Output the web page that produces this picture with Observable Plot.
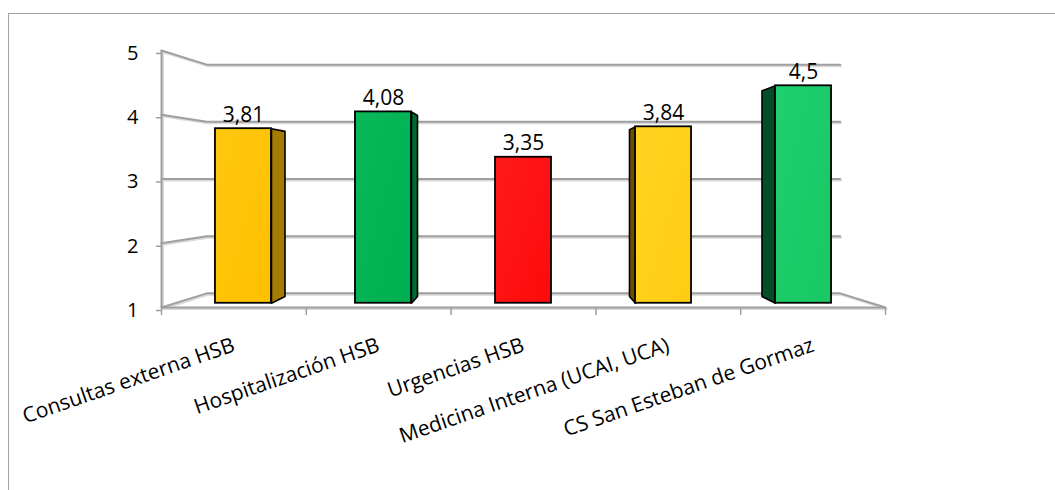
<!DOCTYPE html>
<html>
<head>
<meta charset="utf-8">
<script src="https://cdn.jsdelivr.net/npm/d3@7"></script>
<script src="https://cdn.jsdelivr.net/npm/@observablehq/plot@0.6"></script>
<style>
  html, body { margin: 0; padding: 0; background: #fff; }
  #wrap { position: relative; width: 1055px; height: 490px; overflow: hidden; }
  #border { position: absolute; left: 8px; top: 13px; width: 1100px; height: 600px;
            border-left: 1.5px solid #a4a4a4; border-top: 1.5px solid #a4a4a4; }
  #chart { position: absolute; left: 0; top: 0; }
</style>
</head>
<body>
<div id="wrap"><div id="border"></div><div id="chart"></div></div>
<script>
// ---- data ----
const categories = ["Consultas externa HSB", "Hospitalización HSB", "Urgencias HSB", "Medicina Interna (UCAI, UCA)", "CS San Esteban de Gormaz"];
const values = [3.81, 4.08, 3.35, 3.84, 4.5];
const valueLabels = ["3,81", "4,08", "3,35", "3,84", "4,5"];
const frontColors = ["#FFC000", "#00B050", "#FF0A0A", "#FFCC12", "#17C864"];
const frontLight = ["#FFC70F", "#08B859", "#FF1A1A", "#FFD420", "#20CF6E"];
const sideColors = ["#A67C00", "#006B30", "#8B0000", "#6E5000", "#044D26"];
const yTicks = [1, 2, 3, 4, 5];
const xBounds = [0, 1, 2, 3, 4, 5];

// ---- pseudo-3D projection factors (style) ----
const sFront = 0.967, sBack = 0.915, wallX = 0.875, wallY = 0.89, half = 0.2;
const cU = 2.5, cV = 3;
const px = (u, s) => cU + (u - cU) * s;
const py = (v, s) => cV + (v - cV) * s;
const gray = "#9f9f9f";
const shade = "#d9d9d9";

// gridlines (side wall + back wall + floor)
const grid = [];
yTicks.forEach(t => {
  grid.push({g: t, x: 0, y: t});
  grid.push({g: t, x: px(0, wallX), y: py(t, wallY)});
  grid.push({g: t, x: px(5, wallX), y: py(t, wallY)});
  if (t === 1) grid.push({g: t, x: 5, y: 1});
});

// bars
const bars = values.map((v, i) => ({i, v, c: i + 0.5, label: valueLabels[i]}));
const sides = [];
bars.forEach(b => {
  const L = b.c - half, R = b.c + half;
  let e = null;
  if (R < cU) e = R; else if (L > cU) e = L;
  if (e === null) return;
  const pts = [
    [px(e, sFront), py(1, sFront)],
    [px(e, sFront), py(b.v, sFront)],
    [px(e, sBack), py(b.v, sBack)],
    [px(e, sBack), py(1, sBack)],
    [px(e, sFront), py(1, sFront)]
  ];
  pts.forEach(p => sides.push({id: b.i, x: p[0], y: p[1], fill: sideColors[b.i]}));
});

const chart = Plot.plot({
  width: 1055, height: 490,
  marginLeft: 161, marginRight: 170, marginTop: 50, marginBottom: 183,
  x: {domain: [0, 5], axis: null},
  y: {domain: [1, 5], axis: null},
  color: {type: "identity"},
  style: {fontFamily: "'Open Sans', sans-serif", background: "transparent", overflow: "visible", color: "#000"},
  marks: [
    // soft shadow of the grid
    Plot.line(grid, {x: "x", y: "y", z: "g", stroke: shade, strokeWidth: 2, dx: 1, dy: 1.5}),
    Plot.ruleX([0], {y1: 1, y2: 5, stroke: shade, strokeWidth: 2, dx: 1.5}),
    Plot.ruleY([1], {x1: 0, x2: 5, stroke: shade, strokeWidth: 2, dy: 1.5}),
    // grid and axes
    Plot.line(grid, {x: "x", y: "y", z: "g", stroke: gray, strokeWidth: 2}),
    Plot.ruleX([0], {y1: 1, y2: 5, stroke: gray, strokeWidth: 2}),
    Plot.ruleY([1], {x1: 0, x2: 5, stroke: gray, strokeWidth: 2}),
    Plot.axisY({ticks: yTicks, tickFormat: d => String(d), label: null, tickSize: 5, tickPadding: 18, fontSize: 20, stroke: gray, fill: "#000", strokeWidth: 1.5, dy: 3}),
    Plot.axisX({ticks: xBounds, tickFormat: () => "", label: null, tickSize: 8, stroke: gray, strokeWidth: 1.5}),
    Plot.text(categories, {x: (d, i) => i + 0.5, y: 1, text: d => d, rotate: -19, textAnchor: "end", lineAnchor: "middle", dy: 37, fontSize: 21, fill: "#000"}),
    // bars
    Plot.line(sides, {x: "x", y: "y", z: "id", fill: "fill", stroke: "#000", strokeWidth: 1.6, strokeLinejoin: "round"}),
    Plot.rect(bars, {
      x1: b => px(b.c - half, sFront), x2: b => px(b.c + half, sFront),
      y1: b => py(1, sFront), y2: b => py(b.v, sFront),
      fill: b => `url(#grad${b.i})`, stroke: "#000", strokeWidth: 1.8
    }),
    Plot.text(bars, {x: b => px(b.c, sFront), y: b => py(b.v, sFront), text: "label", lineAnchor: "bottom", dy: -7, fontSize: 21, fill: "#000"})
  ]
});

// gradients for the front faces
const svg = d3.select(chart);
const defs = svg.insert("defs", ":first-child");
frontColors.forEach((c, i) => {
  const g = defs.append("linearGradient").attr("id", `grad${i}`)
    .attr("x1", "0").attr("y1", "0").attr("x2", "1").attr("y2", "1");
  g.append("stop").attr("offset", "0%").attr("stop-color", frontLight[i]);
  g.append("stop").attr("offset", "100%").attr("stop-color", c);
});

document.getElementById("chart").appendChild(chart);
</script>
</body>
</html>
